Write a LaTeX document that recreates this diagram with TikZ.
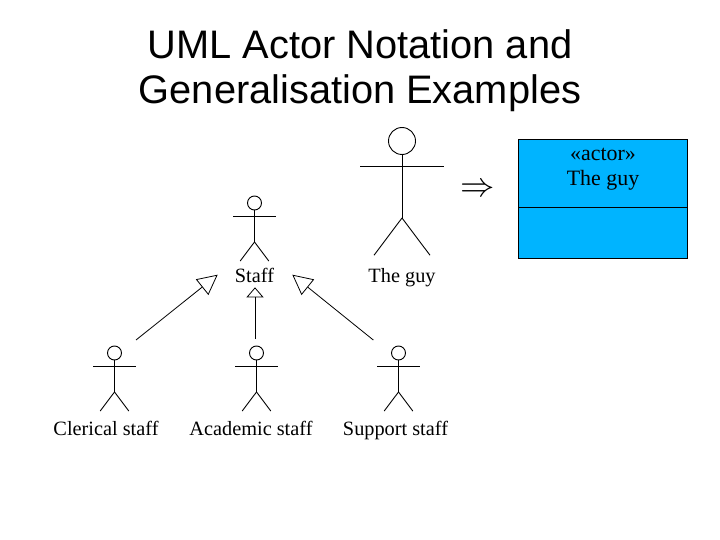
\documentclass[tikz,border=0pt]{standalone}
\usepackage{fontspec}
\setmainfont{Liberation Serif}
\newfontfamily\titlefont{Liberation Sans}
\usetikzlibrary{arrows.meta}
\tikzset{
  x=1pt,y=-1pt,
  limb/.style={draw=black,line width=0.9pt},
  headc/.style={circle,draw=black,line width=0.9pt,inner sep=0pt,fill=none},
  lbl/.style={font=\fontsize{20.3}{22}\selectfont,inner sep=0pt,anchor=base,text=black},
  boxlbl/.style={font=\fontsize{21.9}{24}\selectfont,inner sep=0pt,anchor=base,text=black},
  titletext/.style={font=\titlefont\fontsize{39.8}{45}\selectfont,inner sep=0pt,anchor=base,text=black},
  genline/.style={draw=black,line width=0.8pt},
}
\newcommand{\stickman}[7]{% name, cx, headY, r, armY, bodyEnd, leg size
  \node[headc,minimum size=#4*2pt] (#1head) at (#2,#3) {};
  \coordinate (#1hip) at (#2,#6);
  \draw[limb] (#1head.south) -- (#1hip);
  \draw[limb] (#1hip) -- ++(-#7*0.5,#7*0.665);
  \draw[limb] (#1hip) -- ++(#7*0.5,#7*0.665);
  \draw[limb] (#2,#5) ++(-#7*0.75,0) -- ++(#7*1.5,0);
}
\begin{document}
\begin{tikzpicture}
\useasboundingbox (0,0) rectangle (720,540);
\node[titletext] (t1) at (360,59) {UML Actor Notation and};
\node[titletext] (t2) at (360,104) {Generalisation Examples};

\stickman{guy}{402}{141}{13.5}{166}{218}{56}
\stickman{staff}{254.5}{203}{7}{216}{242}{28.6}
\stickman{cler}{114.5}{353}{7}{366}{392}{28.6}
\stickman{acad}{256.5}{353}{7}{366}{392}{28.6}
\stickman{supp}{398.5}{353}{7}{366}{392}{28.6}

\node[lbl] (guylbl) at (402,282.5) {The guy};
\node[lbl] (stafflbl) at (254.5,282.5) {Staff};
\node[lbl] (clerlbl) at (106,435.5) {Clerical staff};
\node[lbl] (acadlbl) at (251,435.5) {Academic staff};
\node[lbl] (supplbl) at (395.5,435.5) {Support staff};

\coordinate (a1s) at (136,340);
\coordinate (a1e) at (217.7,274.7);
\coordinate (a2s) at (255,339);
\coordinate (a2e) at (255,287.3);
\coordinate (a3s) at (373.3,340);
\coordinate (a3e) at (292.3,274.7);
\draw[genline,-{Triangle[open,length=20pt,width=20pt]}] (a1s) -- (a1e);
\draw[genline,-{Triangle[open,length=10pt,width=17pt]}] (a2s) -- (a2e);
\draw[genline,-{Triangle[open,length=20pt,width=20pt]}] (a3s) -- (a3e);

\node[inner sep=0pt] (impl) at (477.5,190.5) {\scalebox{1.38}{\fontsize{24.88}{25}\selectfont$\Rightarrow$}};

\path[fill={rgb,255:red,0;green,180;blue,255},draw=black,line width=0.9pt] (518.3,139.3) rectangle (687.7,258.3);
\coordinate (divl) at (518.3,207.3);
\coordinate (divr) at (687.7,207.3);
\draw[black,line width=0.8pt] (divl) -- (divr);
\node[boxlbl] (stereo) at (603,160.5) {«actor»};
\node[boxlbl] (boxname) at (603,185.5) {The guy};
\end{tikzpicture}
\end{document}
